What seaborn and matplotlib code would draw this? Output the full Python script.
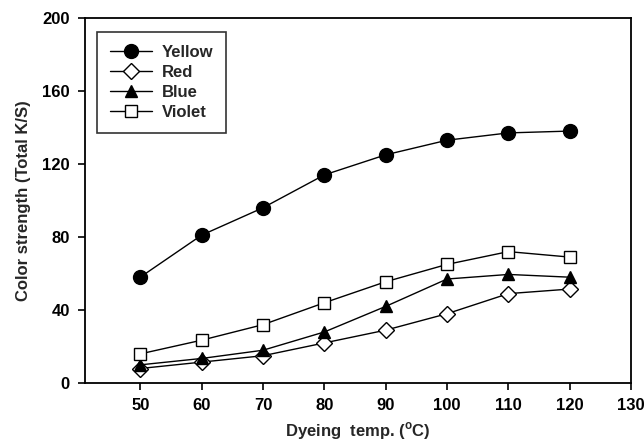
import matplotlib
matplotlib.use("Agg")
import matplotlib.pyplot as plt
import seaborn as sns
import pandas as pd

temps = [50, 60, 70, 80, 90, 100, 110, 120]
yellow = [58, 81, 96, 114, 125, 133, 137, 138]
red = [8, 11.5, 15, 22, 29, 38, 49, 51.5]
blue = [10, 13.5, 18, 28, 42, 57, 59.5, 58]
violet = [16, 23.5, 32, 44, 55.5, 65, 72, 69]
series_names = ["Yellow", "Red", "Blue", "Violet"]
x_ticks = [50, 60, 70, 80, 90, 100, 110, 120, 130]
y_ticks = [0, 40, 80, 120, 160, 200]

sns.set_theme(style="ticks")
plt.rcParams["font.family"] = ["Liberation Sans", "DejaVu Sans"]
plt.rcParams["font.weight"] = "bold"

df = pd.DataFrame({
    "temp": temps * 4,
    "value": yellow + red + blue + violet,
    "series": sum([[n] * len(temps) for n in series_names], []),
})

fig = plt.figure(figsize=(6.44, 4.46), dpi=100)
ax = fig.add_axes([0.132, 0.141, 0.848, 0.819])

styles = {
    "Yellow": dict(marker="o", mfc="black", ms=10),
    "Red": dict(marker="D", mfc="white", ms=8),
    "Blue": dict(marker="^", mfc="black", ms=9),
    "Violet": dict(marker="s", mfc="white", ms=8.5),
}
for name in series_names:
    sub = df[df["series"] == name]
    st = styles[name]
    sns.lineplot(data=sub, x="temp", y="value", ax=ax, color="black", lw=1.0,
                 marker=st["marker"], markersize=st["ms"], markerfacecolor=st["mfc"],
                 markeredgecolor="black", markeredgewidth=1.0, label=name)

ax.set_xlim(41, 130)
ax.set_ylim(0, 200)
ax.set_xticks(x_ticks)
ax.set_yticks(y_ticks)
ax.tick_params(axis="both", direction="out", length=5, width=1.2, colors="black",
               labelsize=12, pad=6)
for lab in ax.get_xticklabels() + ax.get_yticklabels():
    lab.set_fontweight("bold")
for sp in ax.spines.values():
    sp.set_visible(True)
    sp.set_linewidth(1.3)
    sp.set_color("black")

ax.set_xlabel("Dyeing  temp. ($^{\\mathregular{o}}$C)", fontsize=12, fontweight="bold", labelpad=5)
ax.set_ylabel("Color strength (Total K/S)", fontsize=12, fontweight="bold", labelpad=8)

leg = ax.legend(loc="upper left", bbox_to_anchor=(0.006, 0.985), frameon=True, fancybox=False,
                edgecolor="black", fontsize=12, handlelength=2.5, borderpad=0.8,
                labelspacing=0.3, handletextpad=0.6)
leg.get_frame().set_linewidth(1.2)
for t in leg.get_texts():
    t.set_fontweight("bold")

fig.savefig("out.png", dpi=100)
